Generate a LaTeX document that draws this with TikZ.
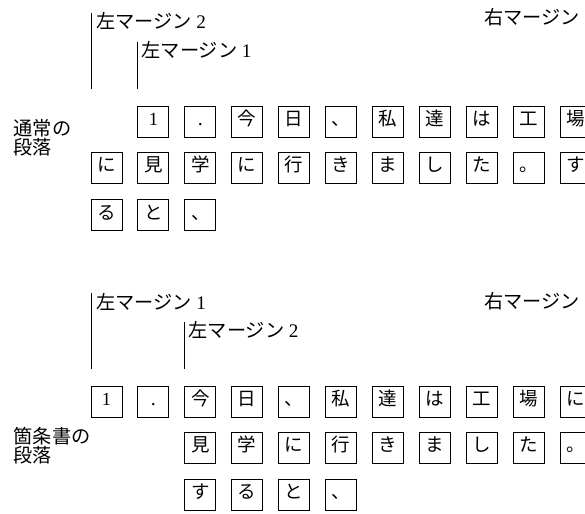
\documentclass[tikz,border=0pt]{standalone}
\usepackage{fontspec}
\newfontfamily\jp{Noto Sans CJK JP}
\newfontfamily\lat{Liberation Serif}
\newcommand\dg[1]{{\lat #1}}
\newcommand\dotc{{\lat\fontsize{20}{20}\selectfont .\hspace{8pt}}}
\tikzset{
  chbox/.style={draw, line width=0.9pt, minimum width=31pt, minimum height=31pt,
    inner sep=0pt, text height=13pt, text depth=4.5pt,
    font=\jp\fontsize{18.5}{18.5}\selectfont},
  lbl/.style={anchor=west, inner sep=0pt, font=\jp\fontsize{19.2}{19}\selectfont},
  mline/.style={line width=1.1pt}
}
\begin{document}
\begin{tikzpicture}[x=1pt,y=-1pt]
\useasboundingbox (0,0) rectangle (585,513);
\clip (0,0) rectangle (585,513);
% ---------- section 1: normal paragraph ----------
\coordinate (s1m2t) at (91.3,13);
\coordinate (s1m2b) at (91.3,89);
\coordinate (s1m1t) at (137.7,42);
\coordinate (s1m1b) at (137.7,89);
\draw[mline] (s1m2t) -- (s1m2b);
\draw[mline] (s1m1t) -- (s1m1b);
\node[lbl] (s1l2) at (96,21) {左マージン\hspace{4.5pt}\dg{2}};
\node[lbl] (s1l1) at (141.5,50) {左マージン\hspace{4.5pt}\dg{1}};
\node[lbl] (s1r) at (484,17.5) {右マージン};
\node[lbl, align=left] (s1p) at (13.5,138) {通常の\\段落};
\foreach \c [count=\k from 1] in {\dg{1},\dotc,今,日,、,私,達,は,工,場}
  \node[chbox] (a1-\k) at (106.5+46.9*\k,121.7) {\c};
\foreach \c [count=\k from 0] in {に,見,学,に,行,き,ま,し,た,。,す}
  \node[chbox] (a2-\k) at (106.5+46.9*\k,167.7) {\c};
\foreach \c [count=\k from 0] in {る,と,、}
  \node[chbox] (a3-\k) at (106.5+46.9*\k,214.8) {\c};
% ---------- section 2: itemized paragraph ----------
\coordinate (s2m1t) at (91.3,293);
\coordinate (s2m1b) at (91.3,369);
\coordinate (s2m2t) at (184.3,322);
\coordinate (s2m2b) at (184.3,369);
\draw[mline] (s2m1t) -- (s2m1b);
\draw[mline] (s2m2t) -- (s2m2b);
\node[lbl] (s2l1) at (96,301.5) {左マージン\hspace{4.5pt}\dg{1}};
\node[lbl] (s2l2) at (188.5,330) {左マージン\hspace{4.5pt}\dg{2}};
\node[lbl] (s2r) at (484,301.5) {右マージン};
\node[lbl, align=left] (s2p) at (13.5,446) {箇条書の\\段落};
\foreach \c [count=\k from 0] in {\dg{1},\dotc,今,日,、,私,達,は,工,場,に}
  \node[chbox] (b1-\k) at (106.5+46.9*\k,401.5) {\c};
\foreach \c [count=\k from 2] in {見,学,に,行,き,ま,し,た,。}
  \node[chbox] (b2-\k) at (106.5+46.9*\k,447.5) {\c};
\foreach \c [count=\k from 2] in {す,る,と,、}
  \node[chbox] (b3-\k) at (106.5+46.9*\k,494.5) {\c};
\end{tikzpicture}
\end{document}
